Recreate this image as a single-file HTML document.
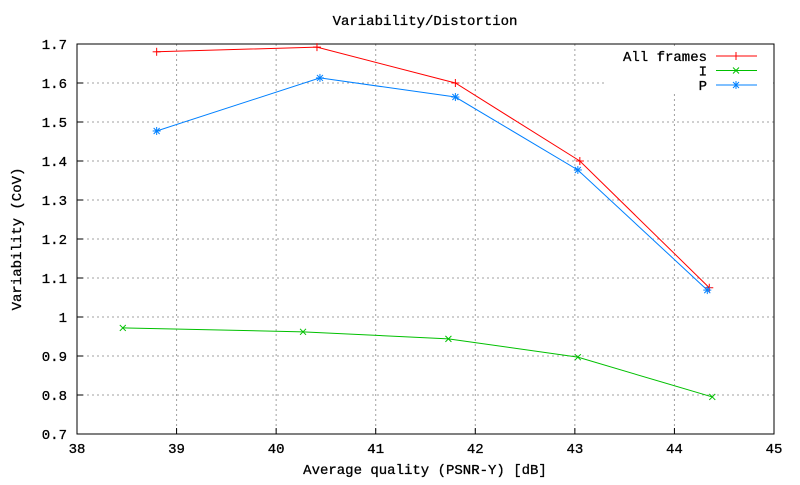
<!DOCTYPE html>
<html><head><meta charset="utf-8"><style>body{margin:0;background:#fff}svg text{font-family:"Liberation Mono","DejaVu Sans Mono",monospace;font-size:14px;fill:#000;stroke:#000;stroke-width:0.3}</style></head>
<body>
<svg id="chart" width="800" height="480" xmlns="http://www.w3.org/2000/svg">
<text x="425" y="25" text-anchor="middle">Variability/Distortion</text>
<text x="425" y="474" text-anchor="middle">Average quality (PSNR-Y) [dB]</text>
<text transform="translate(21,239) rotate(-90)" text-anchor="middle">Variability (CoV)</text>
<g id="grid"></g><g id="axes"></g><g id="series"></g><g id="legend"></g>
</svg>
<script>
const xTicks=[38,39,40,41,42,43,44,45];
const yTicks=[0.7,0.8,0.9,1,1.1,1.2,1.3,1.4,1.5,1.6,1.7];
const seriesNames=["All frames","I","P"];
const seriesColors=["#ff0000","#00c000","#0080ff"];
const allX=[38.8,40.41,41.8,43.05,44.35];
const allY=[1.68,1.692,1.60,1.40,1.075];
const iX=[38.46,40.27,41.73,43.03,44.38];
const iY=[0.972,0.962,0.944,0.897,0.795];
const pX=[38.8,40.44,41.8,43.03,44.33];
const pY=[1.477,1.613,1.564,1.377,1.069];
const L=77,R=774,T=44,B=434;
const sx=v=>L+(v-38)/(45-38)*(R-L);
const sy=v=>B-(v-0.7)/(1.7-0.7)*(B-T);
const NS="http://www.w3.org/2000/svg";
function mk(tag,parent,attrs){const e=document.createElementNS(NS,tag);for(const k in attrs)e.setAttribute(k,attrs[k]);parent.appendChild(e);return e;}
const grid=document.getElementById('grid'),axes=document.getElementById('axes'),ser=document.getElementById('series'),leg=document.getElementById('legend');
xTicks.forEach(t=>{const x=sx(t);
 if(t>38&&t<45){const g=mk('line',grid,{x1:x,x2:x,y1:T,y2:B,stroke:'#a0a0a0','stroke-dasharray':'2,3'});
 
 }
 const tk=mk('line',axes,{x1:x,x2:x,y1:B,y2:B-6,stroke:'#000'});
 
 
 const tx=mk('text',axes,{x:x,y:B+19,'text-anchor':'middle'});tx.textContent=t;
 
 });
yTicks.forEach(t=>{const y=sy(t);
 if(t>0.75&&t<1.65){const g=mk('line',grid,{x1:L,x2:R,y1:y,y2:y,stroke:'#a0a0a0','stroke-dasharray':'2,3'});
 
 }
 const tk=mk('line',axes,{x1:L,x2:L+6,y1:y,y2:y,stroke:'#000'});
 
 
 const tx=mk('text',axes,{x:L-10,y:y+5,'text-anchor':'end'});tx.textContent=String(t);
 
 });
const lb=mk('rect',grid,{x:605,y:46,width:168,height:48,fill:'#fff'});
const frame=mk('rect',axes,{x:L,y:T,width:R-L,height:B-T,fill:'none',stroke:'#000'});


function marker(g,type,x,y,c){const s=4;
 if(type!==1){mk('line',g,{x1:x-s,x2:x+s,y1:y,y2:y,stroke:c});mk('line',g,{x1:x,x2:x,y1:y-s,y2:y+s,stroke:c});}
 if(type!==0){mk('line',g,{x1:x-s+1,x2:x+s-1,y1:y-s+1,y2:y+s-1,stroke:c});mk('line',g,{x1:x-s+1,x2:x+s-1,y1:y+s-1,y2:y-s+1,stroke:c});}}
const data=[[allX,allY],[iX,iY],[pX,pY]];
data.forEach((d,i)=>{const g=mk('g',ser,{});
 
 
 const pts=d[0].map((x,j)=>sx(x)+','+sy(d[1][j])).join(' ');
 mk('polyline',g,{points:pts,fill:'none',stroke:seriesColors[i]});
 d[0].forEach((x,j)=>marker(g,i,sx(x),sy(d[1][j]),seriesColors[i]));
 const ly=56+i*14.5;
 const le=mk('g',leg,{});
 
 
 const t=mk('text',le,{x:707,y:ly+5,'text-anchor':'end'});t.textContent=seriesNames[i];
 mk('line',le,{x1:716,x2:757,y1:ly,y2:ly,stroke:seriesColors[i]});
 marker(le,i,736,ly,seriesColors[i]);});
</script>
</body></html>
